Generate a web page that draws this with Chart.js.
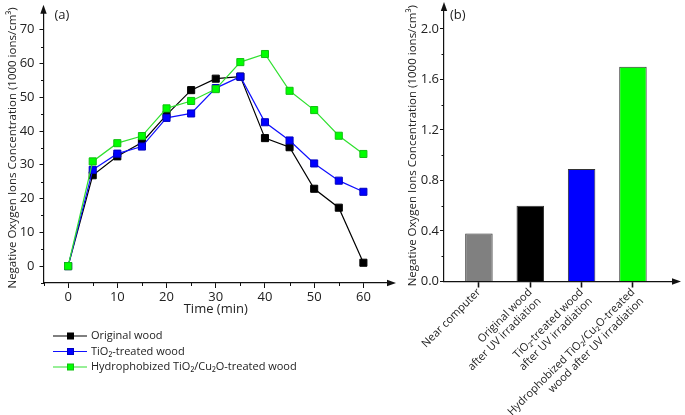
<!DOCTYPE html>
<html>
<head>
<meta charset="utf-8">
<script src="https://cdn.jsdelivr.net/npm/chart.js@4.4.1/dist/chart.umd.min.js"></script>
<style>
  body { margin: 0; background: #fff; width: 685px; height: 415px; position: relative; overflow: hidden; }
  #boxA { position: absolute; left: 0; top: 0; width: 400px; height: 415px; }
  #boxB { position: absolute; left: 400px; top: 0; width: 285px; height: 415px; }
</style>
</head>
<body>
<div id="boxA"><canvas id="lineChart"></canvas></div>
<div id="boxB"><canvas id="barChart"></canvas></div>
<script>
// panel (a) data
const times = [0, 5, 10, 15, 20, 25, 30, 35, 40, 45, 50, 55, 60];
const originalWood = [0, 26.9, 32.5, 36.6, 44.8, 52.1, 55.5, 56.1, 37.9, 35.2, 22.9, 17.3, 1.0];
const tio2Wood = [0, 28.5, 33.3, 35.4, 43.9, 45.2, 52.7, 56.1, 42.6, 37.2, 30.4, 25.3, 22.0];
const hydroWood = [0, 31.0, 36.4, 38.5, 46.7, 48.9, 52.4, 60.4, 62.8, 51.9, 46.2, 38.6, 33.2];
const seriesNames = ['Original wood', 'TiO\u2082-treated wood', 'Hydrophobized TiO\u2082/Cu\u2082O-treated wood'];
const timeTicks = [0, 10, 20, 30, 40, 50, 60];
const timeMinor = [-5, 5, 15, 25, 35, 45, 55];
const concTicks = [0, 10, 20, 30, 40, 50, 60, 70];
const concMinor = [-5, 5, 15, 25, 35, 45, 55, 65];

// panel (b) data
const sites = [
  ['Near computer'],
  ['Original wood', 'after UV irradiation'],
  ['TiO\u2082-treated wood', 'after UV irradiation'],
  ['Hydrophobized TiO\u2082/Cu\u2082O-treated', 'wood after UV irradiation']
];
const siteValues = [0.38, 0.60, 0.89, 1.70];
const barTicks = [0, 0.4, 0.8, 1.2, 1.6, 2.0];
const barMinor = [0.2, 0.6, 1.0, 1.4, 1.8];

const yTitle = 'Negative Oxygen Ions Concentration (1000 ions/cm\u00b3)';
const axisColor = '#111';

Chart.defaults.font.family = "'Open Sans', 'Noto Sans', sans-serif";
Chart.defaults.color = '#222';
Chart.defaults.animation = false;

// minor ticks, arrow heads, panel tag and the legend of (a)
const axisDecor = {
  id: 'axisDecor',
  afterDraw(chart, args, opts) {
    const ctx = chart.ctx;
    const a = chart.chartArea;
    const sx = chart.scales.x, sy = chart.scales.y;
    ctx.save();
    ctx.strokeStyle = axisColor;
    ctx.fillStyle = axisColor;
    ctx.lineWidth = 1;
    (opts.xMinor || []).forEach(v => {
      const px = Math.round(sx.getPixelForValue(v)) + 0.5;
      ctx.beginPath(); ctx.moveTo(px, a.bottom); ctx.lineTo(px, a.bottom + 3); ctx.stroke();
    });
    (opts.yMinor || []).forEach(v => {
      const py = Math.round(sy.getPixelForValue(v)) + 0.5;
      ctx.beginPath(); ctx.moveTo(a.left - 2.5, py); ctx.lineTo(a.left, py); ctx.stroke();
    });
    // arrows
    ctx.beginPath();
    ctx.moveTo(a.right + 8, a.bottom);
    ctx.lineTo(a.right - 1, a.bottom - 3.2);
    ctx.lineTo(a.right - 1, a.bottom + 3.2);
    ctx.closePath(); ctx.fill();
    ctx.beginPath();
    ctx.moveTo(a.left, a.top - 8);
    ctx.lineTo(a.left - 3.2, a.top + 1);
    ctx.lineTo(a.left + 3.2, a.top + 1);
    ctx.closePath(); ctx.fill();
    // panel tag
    ctx.fillStyle = '#222';
    ctx.font = "13px 'Open Sans', sans-serif";
    ctx.textBaseline = 'middle';
    ctx.fillText(opts.tag, a.left + opts.tagDx, 15);
    // legend
    if (opts.legend) {
      const lg = opts.legend;
      ctx.font = "11px 'Open Sans', sans-serif";
      chart.data.datasets.slice().sort((p, q) => p.legendIndex - q.legendIndex).forEach((ds, i) => {
        const y = lg.y + i * lg.step;
        ctx.strokeStyle = ds.borderColor;
        ctx.lineWidth = 1.2;
        ctx.beginPath(); ctx.moveTo(lg.x, y); ctx.lineTo(lg.x + 34, y); ctx.stroke();
        ctx.fillStyle = ds.pointBorderColor;
        ctx.fillRect(lg.x + 14, y - 3.5, 7, 7);
        ctx.fillStyle = ds.pointBackgroundColor;
        ctx.fillRect(lg.x + 15, y - 2.5, 5, 5);
        ctx.fillStyle = '#222';
        ctx.fillText(ds.label, lg.x + 38, y);
      });
    }
    ctx.restore();
  }
};

function lineSet(name, values, line, fill, edge, order, legendIndex) {
  return {
    label: name,
    data: values.map((v, i) => ({ x: times[i], y: v })),
    borderColor: line,
    borderWidth: 1.2,
    pointStyle: 'rect',
    pointRadius: 5,
    pointBackgroundColor: fill,
    pointBorderColor: edge,
    pointBorderWidth: 1,
    order: order,
    legendIndex: legendIndex
  };
}

new Chart(document.getElementById('lineChart'), {
  type: 'line',
  data: {
    datasets: [
      lineSet(seriesNames[0], originalWood, '#000000', '#000000', '#000000', 2, 0),
      lineSet(seriesNames[1], tio2Wood, '#1010ff', '#0000ff', '#0000c0', 1, 1),
      lineSet(seriesNames[2], hydroWood, '#30e030', '#00ff00', '#10c010', 0, 2)
    ]
  },
  options: {
    responsive: true,
    maintainAspectRatio: false,
    layout: { padding: { left: 0, right: 12, top: 11, bottom: 92 } },
    plugins: {
      legend: { display: false },
      tooltip: { enabled: false },
      axisDecor: {
        xMinor: timeMinor, yMinor: concMinor, tag: '(a)', tagDx: 11,
        legend: { x: 53, y: 336, step: 15.5 }
      }
    },
    scales: {
      x: {
        type: 'linear', min: -5, max: 65,
        afterBuildTicks: s => { s.ticks = timeTicks.map(v => ({ value: v })); },
        afterFit: s => { s.height = 40; },
        ticks: { font: { size: 13 }, padding: 1, maxRotation: 0, color: '#222' },
        grid: { drawOnChartArea: false, tickLength: 5, color: axisColor },
        border: { color: axisColor, width: 1.2 },
        title: { display: true, text: 'Time (min)', font: { size: 13 }, color: '#222', padding: { top: 0, bottom: 6 } }
      },
      y: {
        min: -5, max: 75,
        afterBuildTicks: s => { s.ticks = concTicks.map(v => ({ value: v })); },
        afterFit: s => { s.width = 43.5; },
        ticks: { font: { size: 13 }, padding: 5, color: '#222' },
        grid: { drawOnChartArea: false, tickLength: 4, color: axisColor },
        border: { color: axisColor, width: 1.2 },
        title: { display: true, text: yTitle, font: { size: 11.5 }, color: '#222', padding: { top: 6, bottom: 0 } }
      }
    }
  },
  plugins: [axisDecor]
});

new Chart(document.getElementById('barChart'), {
  type: 'bar',
  data: {
    datasets: [{
      label: 'Negative oxygen ions',
      data: siteValues.map((v, i) => ({ x: i + 1, y: v })),
      backgroundColor: ['#808080', '#000000', '#0000ff', '#00ff00'],
      borderColor: '#333333',
      borderWidth: 1,
      categoryPercentage: 1,
      barPercentage: 0.535
    }]
  },
  options: {
    responsive: true,
    maintainAspectRatio: false,
    layout: { padding: { left: 0, right: 12, top: 10, bottom: 0 } },
    plugins: {
      legend: { display: false },
      tooltip: { enabled: false },
      axisDecor: { yMinor: barMinor, tag: '(b)', tagDx: 6 }
    },
    scales: {
      x: {
        type: 'linear', min: 0.32, max: 4.78, offset: false,
        afterBuildTicks: s => { s.ticks = sites.map((_, i) => ({ value: i + 1 })); },
        afterFit: s => { s.height = 133.5; s.paddingLeft = 0; s.paddingRight = 0; },
        ticks: {
          callback: (v, i) => sites[i],
          autoSkip: false, minRotation: 45, maxRotation: 45,
          font: { size: 11, lineHeight: 1.15 }, padding: -1.5, color: '#222'
        },
        grid: { offset: false, drawOnChartArea: false, tickLength: 6, tickWidth: 1.6, color: axisColor },
        border: { color: axisColor, width: 1.2 }
      },
      y: {
        min: 0, max: 2.15,
        afterBuildTicks: s => { s.ticks = barTicks.map(v => ({ value: v })); },
        afterFit: s => { s.width = 44; },
        ticks: { callback: v => v.toFixed(1), font: { size: 13 }, padding: 1, color: '#222' },
        grid: { drawOnChartArea: false, tickLength: 4, color: axisColor },
        border: { color: axisColor, width: 1.2 },
        title: { display: true, text: yTitle, font: { size: 11.5 }, color: '#222', padding: { top: 6, bottom: 0 } }
      }
    }
  },
  plugins: [axisDecor]
});
</script>
</body>
</html>
